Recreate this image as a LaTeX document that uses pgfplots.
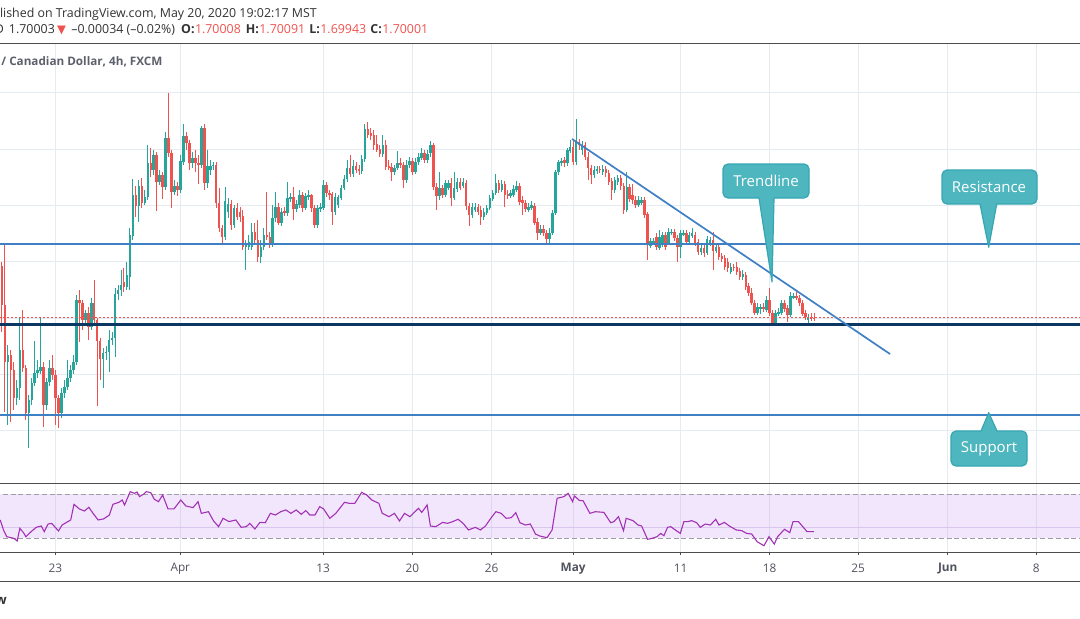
\documentclass[border=0pt]{standalone}
\usepackage{pgfplots}
\pgfplotsset{compat=1.18}
\usepackage{pgfplotstable}
\usepackage{fontspec}
\setmainfont{Open Sans}
\newfontfamily\symfont{DejaVu Sans}

\definecolor{upc}{HTML}{26A69A}
\definecolor{dnc}{HTML}{EF5350}
\definecolor{gridc}{HTML}{E4EBF1}
\definecolor{bluec}{HTML}{3F80C5}
\definecolor{navyc}{HTML}{0B3763}
\definecolor{rsic}{HTML}{A232B4}
\definecolor{bandc}{RGB}{190,130,245}
\definecolor{dashc}{HTML}{A09CA6}
\definecolor{midc}{HTML}{D9C7EE}
\definecolor{axc}{HTML}{4D4D4D}
\definecolor{labc}{HTML}{50535E}
\definecolor{titc}{HTML}{5D606B}
\definecolor{txtc}{HTML}{333333}
\definecolor{callc}{HTML}{4DB6BF}
\definecolor{callb}{HTML}{36A7B2}

% 4h candles, GBP/CAD, FXCM: open high low close
\pgfplotstableread{
o h l c
1.7092 1.7099 1.6975 1.7023
1.7023 1.7133 1.6833 1.6922
1.6922 1.6952 1.6810 1.6934
1.6934 1.6943 1.6815 1.6908
1.6908 1.6922 1.6837 1.6858
1.6858 1.6890 1.6845 1.6876
1.6876 1.7000 1.6854 1.6943
1.6943 1.7014 1.6904 1.6911
1.6911 1.6917 1.6819 1.6831
1.6831 1.6863 1.6769 1.6854
1.6854 1.6893 1.6845 1.6885
1.6885 1.6959 1.6879 1.6902
1.6902 1.6925 1.6893 1.6908
1.6906 1.7000 1.6901 1.6913
1.6913 1.6922 1.6806 1.6845
1.6845 1.6893 1.6837 1.6886
1.6886 1.6925 1.6879 1.6911
1.6911 1.6934 1.6890 1.6899
1.6899 1.6908 1.6810 1.6858
1.6858 1.6863 1.6805 1.6831
1.6831 1.6876 1.6822 1.6867
1.6867 1.6890 1.6858 1.6877
1.6877 1.6925 1.6872 1.6893
1.6893 1.6917 1.6886 1.6908
1.6908 1.6934 1.6901 1.6922
1.6922 1.7041 1.6917 1.7032
1.7032 1.7050 1.6957 1.7027
1.7027 1.7032 1.6979 1.6996
1.6996 1.7014 1.6989 1.7009
1.7009 1.7020 1.6961 1.6984
1.6984 1.7036 1.6979 1.7027
1.7027 1.7067 1.6988 1.6996
1.6996 1.7000 1.6844 1.6959
1.6959 1.6964 1.6890 1.6927
1.6927 1.6947 1.6876 1.6938
1.6938 1.6950 1.6925 1.6940
1.6940 1.6979 1.6904 1.6961
1.6961 1.6975 1.6952 1.6964
1.6964 1.7053 1.6931 1.7043
1.7043 1.7059 1.7032 1.7050
1.7050 1.7085 1.7039 1.7059
1.7064 1.7089 1.7046 1.7055
1.7055 1.7099 1.7050 1.7076
1.7073 1.7160 1.7050 1.7147
1.7146 1.7247 1.7139 1.7218
1.7218 1.7234 1.7179 1.7199
1.7199 1.7245 1.7170 1.7234
1.7234 1.7249 1.7195 1.7204
1.7204 1.7227 1.7201 1.7215
1.7215 1.7307 1.7210 1.7275
1.7275 1.7302 1.7250 1.7263
1.7263 1.7298 1.7254 1.7289
1.7289 1.7295 1.7190 1.7242
1.7242 1.7263 1.7236 1.7254
1.7254 1.7259 1.7211 1.7233
1.7233 1.7330 1.7227 1.7320
1.7320 1.7400 1.7286 1.7293
1.7293 1.7298 1.7195 1.7224
1.7224 1.7245 1.7218 1.7234
1.7234 1.7242 1.7217 1.7227
1.7227 1.7289 1.7222 1.7279
1.7277 1.7345 1.7272 1.7323
1.7323 1.7330 1.7298 1.7311
1.7311 1.7316 1.7263 1.7275
1.7275 1.7295 1.7266 1.7284
1.7284 1.7298 1.7259 1.7275
1.7275 1.7289 1.7238 1.7272
1.7272 1.7341 1.7266 1.7337
1.7337 1.7345 1.7227 1.7240
1.7240 1.7298 1.7231 1.7270
1.7263 1.7281 1.7254 1.7270
1.7270 1.7277 1.7263 1.7272
1.7272 1.7277 1.7195 1.7204
1.7204 1.7231 1.7153 1.7160
1.7160 1.7165 1.7130 1.7144
1.7144 1.7233 1.7139 1.7208
1.7188 1.7213 1.7178 1.7202
1.7202 1.7210 1.7156 1.7165
1.7165 1.7201 1.7160 1.7195
1.7195 1.7204 1.7174 1.7179
1.7188 1.7197 1.7170 1.7179
1.7181 1.7192 1.7121 1.7126
1.7126 1.7139 1.7085 1.7130
1.7126 1.7147 1.7121 1.7135
1.7126 1.7169 1.7121 1.7153
1.7153 1.7169 1.7133 1.7139
1.7139 1.7174 1.7099 1.7108
1.7108 1.7139 1.7098 1.7126
1.7126 1.7160 1.7121 1.7147
1.7147 1.7224 1.7139 1.7144
1.7144 1.7153 1.7124 1.7133
1.7133 1.7201 1.7126 1.7178
1.7178 1.7224 1.7170 1.7197
1.7197 1.7204 1.7165 1.7169
1.7169 1.7195 1.7163 1.7188
1.7190 1.7197 1.7181 1.7186
1.7186 1.7242 1.7181 1.7213
1.7211 1.7222 1.7206 1.7215
1.7215 1.7233 1.7174 1.7194
1.7194 1.7210 1.7188 1.7202
1.7201 1.7227 1.7195 1.7218
1.7218 1.7224 1.7188 1.7195
1.7195 1.7222 1.7192 1.7217
1.7215 1.7227 1.7210 1.7218
1.7218 1.7220 1.7188 1.7195
1.7195 1.7201 1.7160 1.7165
1.7165 1.7201 1.7160 1.7195
1.7195 1.7204 1.7188 1.7197
1.7195 1.7245 1.7192 1.7236
1.7236 1.7242 1.7215 1.7222
1.7222 1.7227 1.7210 1.7218
1.7220 1.7224 1.7165 1.7188
1.7188 1.7222 1.7183 1.7215
1.7201 1.7218 1.7195 1.7215
1.7213 1.7236 1.7210 1.7231
1.7231 1.7254 1.7227 1.7247
1.7247 1.7281 1.7242 1.7266
1.7266 1.7289 1.7250 1.7256
1.7256 1.7281 1.7250 1.7270
1.7270 1.7277 1.7258 1.7263
1.7265 1.7272 1.7254 1.7261
1.7261 1.7289 1.7256 1.7282
1.7282 1.7345 1.7277 1.7336
1.7336 1.7348 1.7320 1.7325
1.7329 1.7337 1.7316 1.7323
1.7325 1.7334 1.7298 1.7307
1.7309 1.7325 1.7295 1.7298
1.7300 1.7307 1.7286 1.7291
1.7291 1.7325 1.7286 1.7307
1.7307 1.7316 1.7263 1.7268
1.7270 1.7281 1.7263 1.7268
1.7268 1.7275 1.7243 1.7259
1.7259 1.7272 1.7254 1.7266
1.7266 1.7297 1.7263 1.7275
1.7275 1.7284 1.7266 1.7272
1.7272 1.7277 1.7231 1.7245
1.7245 1.7281 1.7240 1.7272
1.7272 1.7286 1.7266 1.7279
1.7279 1.7284 1.7254 1.7259
1.7259 1.7284 1.7256 1.7277
1.7277 1.7293 1.7272 1.7286
1.7284 1.7302 1.7281 1.7293
1.7293 1.7298 1.7275 1.7281
1.7281 1.7298 1.7275 1.7291
1.7293 1.7314 1.7286 1.7307
1.7307 1.7311 1.7227 1.7233
1.7233 1.7240 1.7192 1.7217
1.7217 1.7259 1.7210 1.7231
1.7231 1.7236 1.7213 1.7218
1.7218 1.7245 1.7215 1.7240
1.7231 1.7245 1.7227 1.7240
1.7240 1.7249 1.7199 1.7213
1.7213 1.7259 1.7210 1.7231
1.7229 1.7249 1.7224 1.7242
1.7242 1.7249 1.7227 1.7231
1.7234 1.7249 1.7231 1.7242
1.7240 1.7245 1.7192 1.7199
1.7199 1.7204 1.7163 1.7183
1.7183 1.7204 1.7178 1.7197
1.7192 1.7204 1.7188 1.7197
1.7197 1.7202 1.7183 1.7188
1.7192 1.7199 1.7165 1.7179
1.7179 1.7195 1.7174 1.7188
1.7186 1.7201 1.7183 1.7195
1.7195 1.7218 1.7192 1.7213
1.7211 1.7227 1.7208 1.7222
1.7222 1.7256 1.7218 1.7240
1.7240 1.7245 1.7222 1.7227
1.7227 1.7245 1.7224 1.7238
1.7238 1.7243 1.7197 1.7218
1.7220 1.7227 1.7211 1.7217
1.7217 1.7227 1.7213 1.7222
1.7218 1.7236 1.7215 1.7229
1.7227 1.7243 1.7224 1.7234
1.7234 1.7240 1.7201 1.7206
1.7210 1.7217 1.7183 1.7204
1.7204 1.7210 1.7188 1.7194
1.7192 1.7204 1.7188 1.7197
1.7195 1.7208 1.7192 1.7201
1.7199 1.7204 1.7165 1.7169
1.7170 1.7178 1.7139 1.7151
1.7151 1.7165 1.7147 1.7158
1.7158 1.7165 1.7146 1.7151
1.7151 1.7156 1.7131 1.7140
1.7140 1.7160 1.7130 1.7151
1.7151 1.7192 1.7147 1.7186
1.7186 1.7263 1.7183 1.7259
1.7259 1.7281 1.7254 1.7277
1.7275 1.7284 1.7270 1.7279
1.7281 1.7286 1.7268 1.7275
1.7275 1.7302 1.7270 1.7298
1.7297 1.7316 1.7293 1.7304
1.7304 1.7316 1.7272 1.7277
1.7277 1.7353 1.7272 1.7313
1.7313 1.7318 1.7298 1.7307
1.7298 1.7314 1.7289 1.7307
1.7307 1.7313 1.7281 1.7286
1.7286 1.7295 1.7245 1.7266
1.7266 1.7272 1.7238 1.7254
1.7254 1.7270 1.7249 1.7263
1.7261 1.7270 1.7256 1.7265
1.7265 1.7270 1.7258 1.7263
1.7259 1.7272 1.7254 1.7265
1.7265 1.7270 1.7250 1.7258
1.7258 1.7263 1.7236 1.7242
1.7243 1.7249 1.7210 1.7227
1.7227 1.7250 1.7222 1.7245
1.7242 1.7254 1.7236 1.7249
1.7249 1.7254 1.7227 1.7234
1.7234 1.7240 1.7185 1.7192
1.7192 1.7259 1.7188 1.7233
1.7233 1.7238 1.7206 1.7211
1.7218 1.7238 1.7202 1.7210
1.7210 1.7217 1.7195 1.7201
1.7201 1.7217 1.7197 1.7210
1.7204 1.7215 1.7201 1.7210
1.7210 1.7215 1.7178 1.7183
1.7185 1.7188 1.7103 1.7130
1.7128 1.7142 1.7124 1.7137
1.7133 1.7142 1.7130 1.7137
1.7144 1.7151 1.7121 1.7126
1.7124 1.7156 1.7121 1.7144
1.7130 1.7153 1.7126 1.7147
1.7147 1.7153 1.7121 1.7126
1.7133 1.7160 1.7130 1.7153
1.7151 1.7158 1.7147 1.7153
1.7153 1.7158 1.7137 1.7142
1.7142 1.7147 1.7099 1.7126
1.7126 1.7156 1.7107 1.7151
1.7149 1.7156 1.7146 1.7151
1.7151 1.7156 1.7130 1.7135
1.7135 1.7153 1.7131 1.7147
1.7146 1.7160 1.7142 1.7151
1.7147 1.7153 1.7128 1.7133
1.7135 1.7140 1.7112 1.7117
1.7117 1.7131 1.7112 1.7124
1.7124 1.7130 1.7108 1.7115
1.7115 1.7146 1.7112 1.7140
1.7133 1.7144 1.7128 1.7139
1.7139 1.7153 1.7085 1.7119
1.7119 1.7131 1.7115 1.7126
1.7126 1.7133 1.7103 1.7108
1.7110 1.7115 1.7099 1.7105
1.7107 1.7112 1.7085 1.7091
1.7099 1.7107 1.7082 1.7089
1.7082 1.7098 1.7078 1.7091
1.7091 1.7096 1.7083 1.7089
1.7091 1.7099 1.7076 1.7082
1.7083 1.7089 1.7067 1.7073
1.7073 1.7085 1.7067 1.7078
1.7076 1.7082 1.7050 1.7055
1.7057 1.7062 1.7039 1.7044
1.7044 1.7053 1.7023 1.7027
1.7027 1.7032 1.7005 1.7009
1.7009 1.7027 1.7005 1.7020
1.7016 1.7025 1.7007 1.7020
1.7020 1.7027 1.7011 1.7016
1.7014 1.7039 1.7011 1.7032
1.7032 1.7053 1.7004 1.7009
1.7009 1.7014 1.6989 1.6991
1.6991 1.7014 1.6989 1.7009
1.7007 1.7018 1.7004 1.7011
1.7009 1.7032 1.7005 1.7027
1.7027 1.7032 1.7011 1.7016
1.7018 1.7023 1.6993 1.7005
1.7005 1.7046 1.7002 1.7039
1.7037 1.7044 1.7034 1.7039
1.7039 1.7046 1.7032 1.7036
1.7036 1.7041 1.7021 1.7027
1.7027 1.7032 1.7004 1.7007
1.7009 1.7014 1.6996 1.7002
1.6996 1.7007 1.6989 1.7002
1.7002 1.7009 1.6995 1.6998
1.70008 1.70091 1.69943 1.70001
}\candles

% RSI(14), bar index against value
\pgfplotstableread{
x r
-0.6 46.7
0.5 37.6
1.6 31.5
4.0 30.0
5.1 27.6
6.0 39.1
7.4 34.5
8.0 31.5
9.8 36.1
11.5 40.0
13.2 41.2
14.2 36.1
15.5 43.0
16.7 43.6
19.0 36.7
20.2 42.1
23.1 46.7
24.2 60.9
26.0 56.7
27.7 54.8
29.2 58.2
30.6 52.7
32.3 46.7
34.1 47.6
36.1 51.2
37.3 60.9
39.3 62.7
40.4 64.8
41.2 60.3
43.1 72.4
44.5 70.9
45.4 72.1
46.2 67.9
47.7 70.3
48.5 72.4
50.0 71.5
51.2 65.5
52.6 63.3
54.0 69.4
55.8 56.7
57.8 56.7
60.1 64.8
61.8 59.4
64.2 57.9
65.9 63.3
67.0 52.7
69.4 54.2
71.1 45.8
72.8 40.6
74.3 48.2
76.3 45.2
78.6 46.7
80.4 40.0
82.1 40.6
83.3 43.6
85.0 38.5
86.7 44.5
88.5 44.2
90.2 52.7
91.9 51.2
93.7 54.2
95.4 55.8
97.1 52.7
98.9 55.8
100.6 51.8
102.1 55.2
103.5 51.2
105.2 51.2
106.8 58.8
108.1 56.7
110.2 48.2
112.2 52.7
115.1 62.7
116.8 61.8
118.6 61.8
120.9 71.8
122.6 69.4
124.3 64.8
126.7 61.8
127.8 52.7
130.1 49.7
131.9 52.7
133.6 45.8
135.3 52.7
137.1 49.7
140.0 57.3
141.1 53.6
142.9 60.3
144.0 41.2
145.8 40.6
148.1 44.5
149.8 43.6
151.5 45.2
153.3 47.3
155.0 43.6
156.8 37.6
159.1 40.0
160.8 37.6
162.5 41.2
164.3 48.2
166.0 54.2
167.8 52.7
169.5 48.2
171.2 48.8
172.7 53.3
174.1 44.2
175.9 42.1
177.6 43.0
179.3 33.9
180.8 32.1
183.2 30.6
184.9 37.6
186.6 66.4
188.9 67.9
190.3 70.9
191.8 63.3
192.4 68.5
194.2 64.2
195.3 64.2
197.6 52.7
199.4 54.2
202.3 53.6
204.6 44.2
205.7 45.2
207.2 49.7
208.9 37.0
209.8 48.2
212.1 46.1
213.8 42.1
215.0 41.2
217.0 29.1
218.5 30.0
220.2 31.5
221.4 34.5
222.5 32.4
223.7 40.0
224.8 40.6
226.0 38.2
228.0 34.5
229.2 45.2
230.6 45.2
231.8 46.1
233.5 44.2
234.7 40.0
236.4 43.0
238.1 42.1
239.9 47.3
241.0 42.1
242.8 44.5
244.5 41.2
246.8 37.6
248.6 37.0
250.3 34.5
252.0 33.9
253.8 27.0
256.1 23.3
257.8 31.5
259.6 24.8
260.7 31.5
263.0 38.2
264.8 35.2
265.9 45.2
267.7 45.2
270.6 36.1
273.0 36.1
}\rsi

\pgfplotsset{
  pane/.style={
    scale only axis, width=540pt, anchor=south west,
    xmin=-0.672, xmax=362.35,
    axis line style={draw=none},
    xtick={17.98,59.93,107.90,137.92,164.54,192.0,228.07,258.05,287.80,317.88,347.63},
    xmajorgrids, major grid style={gridc, line width=0.5pt},
    yticklabels={}, ytick style={draw=none},
  },
  wick/.style={draw=none, mark=none, forget plot,
    error bars/.cd, y dir=both, y explicit, error mark=none,
    error bar style={draw=#1, line width=0.5pt}},
  body/.style={draw=none, mark=none, forget plot,
    error bars/.cd, y dir=both, y explicit, error mark=none,
    error bar style={draw=#1, line width=1.25pt}},
}

\begin{document}
\begin{tikzpicture}
\path[use as bounding box, clip] (0,0) rectangle (540pt,309pt);
\fill[white] (0,0) rectangle (540pt,309pt);

% price pane
\begin{axis}[pane, at={(0pt,67.35pt)}, height=220pt,
  ymin=1.67064, ymax=1.74879,
  xticklabels={}, xtick style={draw=none},
  ytick={1.68,1.69,1.70,1.71,1.72,1.73,1.74}, ymajorgrids]
\addplot[wick=upc] table[x expr=\coordindex,
  y expr={\thisrow{c}>=\thisrow{o} ? 0.5*(\thisrow{h}+\thisrow{l}) : nan},
  y error expr={0.5*(\thisrow{h}-\thisrow{l})}] {\candles};
\addplot[wick=dnc] table[x expr=\coordindex,
  y expr={\thisrow{c}<\thisrow{o} ? 0.5*(\thisrow{h}+\thisrow{l}) : nan},
  y error expr={0.5*(\thisrow{h}-\thisrow{l})}] {\candles};
\addplot[body=upc] table[x expr=\coordindex,
  y expr={\thisrow{c}>=\thisrow{o} ? 0.5*(\thisrow{o}+\thisrow{c}) : nan},
  y error expr={max(0.5*abs(\thisrow{c}-\thisrow{o}),0.00003)}] {\candles};
\addplot[body=dnc] table[x expr=\coordindex,
  y expr={\thisrow{c}<\thisrow{o} ? 0.5*(\thisrow{o}+\thisrow{c}) : nan},
  y error expr={max(0.5*abs(\thisrow{c}-\thisrow{o}),0.00003)}] {\candles};
% resistance, support, base line, last price, trendline
\addplot[bluec, line width=1pt] coordinates {(-5,1.7132) (400,1.7132)};
\addplot[bluec, line width=1pt] coordinates {(-5,1.6828) (400,1.6828)};
\addplot[navyc, line width=1.5pt] coordinates {(-5,1.6989) (400,1.6989)};
\addplot[dnc, line width=0.5pt, dash pattern=on 1pt off 1pt] coordinates {(-5,1.70001) (400,1.70001)};
\addplot[bluec, line width=0.85pt] coordinates {(191.6,1.7318) (298.5,1.6936)};
\end{axis}

% RSI pane
\begin{axis}[pane, at={(0pt,32.9pt)}, height=34.45pt,
  ymin=17.4, ymax=80, ytick=\empty,
  xticklabels={23,Apr,13,20,26,\textbf{May},11,18,25,\textbf{Jun},8},
  xtick pos=left, xtick align=outside, major tick length=1.4pt,
  xtick style={draw=axc, line width=0.5pt},
  xticklabel style={font=\fontsize{5.9}{7}\selectfont, text=labc, anchor=center, yshift=-6.8pt}]
\fill[bandc, fill opacity=0.2] (axis cs:-5,30) rectangle (axis cs:400,70);
\addplot[midc, line width=0.5pt] coordinates {(-5,40) (400,40)};
\addplot[dashc, line width=0.5pt, dash pattern=on 2.5pt off 1.4pt] coordinates {(-5,70) (400,70)};
\addplot[dashc, line width=0.5pt, dash pattern=on 2.5pt off 1.4pt] coordinates {(-5,30) (400,30)};
\addplot[rsic, line width=0.55pt] table[x=x, y=r] {\rsi};
\end{axis}

\begin{scope}[x=1pt, y=1pt]
% pane borders
\draw[axc, line width=0.5pt] (0,287.35) -- (540,287.35);
\draw[axc, line width=0.5pt] (0,67.35) -- (540,67.35);
\draw[axc, line width=0.5pt] (0,32.9) -- (540,32.9);
\draw[axc, line width=0.5pt] (0,18.5) -- (540,18.5);

% header
\node[anchor=base west, inner sep=0, text=txtc, font=\fontsize{6.2}{7}\selectfont] at (-0.2,300.35)
  {lished on TradingView.com, May 20, 2020 19:02:17 MST};
\begin{scope}[every node/.style={inner sep=0, font=\fontsize{6.2}{7}\selectfont}]
\node[anchor=base east, text=txtc] at (2.2,292.35) {D};
\node[anchor=base west, text=txtc] at (4.3,292.35) {1.70003};
\node[anchor=base, text=dnc] at (30.8,292.35) {\symfont\fontsize{5.8}{7}\selectfont ▼};
\node[anchor=base west, text=txtc] at (35.5,292.35) {–0.00034 (–0.02\%)};
\node[anchor=base west, text=txtc] at (90.4,292.35) {\bfseries O:};
\node[anchor=base west, text=dnc] at (97.3,292.35) {1.70008};
\node[anchor=base west, text=txtc] at (122.7,292.35) {\bfseries H:};
\node[anchor=base west, text=dnc] at (129.5,292.35) {1.70091};
\node[anchor=base west, text=txtc] at (154.5,292.35) {\bfseries L:};
\node[anchor=base west, text=dnc] at (160,292.35) {1.69943};
\node[anchor=base west, text=txtc] at (185,292.35) {\bfseries C:};
\node[anchor=base west, text=dnc] at (191,292.35) {1.70001};
\end{scope}
\node[anchor=base west, inner sep=0, text=titc, font=\bfseries\fontsize{5.85}{7}\selectfont] at (0.5,276.5)
  {/ Canadian Dollar, 4h, FXCM};
\node[anchor=base east, inner sep=0, text=txtc, font=\bfseries\fontsize{6.5}{8}\selectfont] at (3.6,7) {View};

% callouts
\begin{scope}[line width=0.6pt, line join=round]
\filldraw[fill=callc, draw=callb]
  (364,227) -- (402,227) arc[start angle=90, end angle=0, radius=2.5]
  -- (404.5,212.5) arc[start angle=0, end angle=-90, radius=2.5]
  -- (387,210) -- (386,168) -- (379.5,210)
  -- (364,210) arc[start angle=270, end angle=180, radius=2.5]
  -- (361.5,224.5) arc[start angle=180, end angle=90, radius=2.5] -- cycle;
\filldraw[fill=callc, draw=callb]
  (473.5,224) -- (516,224) arc[start angle=90, end angle=0, radius=2.5]
  -- (518.5,209.5) arc[start angle=0, end angle=-90, radius=2.5]
  -- (498.35,207) -- (494.35,185.4) -- (490,207)
  -- (473.5,207) arc[start angle=270, end angle=180, radius=2.5]
  -- (471,221.5) arc[start angle=180, end angle=90, radius=2.5] -- cycle;
\filldraw[fill=callc, draw=callb]
  (478,93.5) -- (490.5,93.5) -- (494.35,102.65) -- (498.5,93.5)
  -- (511,93.5) arc[start angle=90, end angle=0, radius=2.5]
  -- (513.5,78.5) arc[start angle=0, end angle=-90, radius=2.5]
  -- (478,76) arc[start angle=270, end angle=180, radius=2.5]
  -- (475.5,91) arc[start angle=180, end angle=90, radius=2.5] -- cycle;
\end{scope}
\begin{scope}[every node/.style={inner sep=0, text=white, font=\fontsize{7.5}{9}\selectfont}]
\node at (383,218.5) {Trendline};
\node at (494.5,215.5) {Resistance};
\node at (494.5,84.75) {Support};
\end{scope}
\end{scope}
\end{tikzpicture}
\end{document}
